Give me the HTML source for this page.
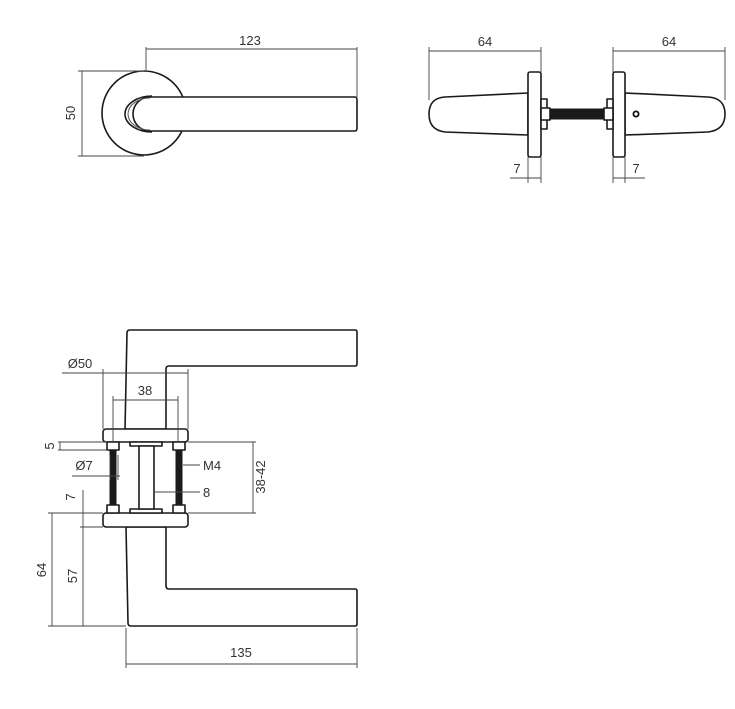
<!DOCTYPE html>
<html><head><meta charset="utf-8"><style>
html,body{margin:0;padding:0;background:#fff;}
svg{display:block}
text{font-family:"Liberation Sans",sans-serif;font-size:13px;fill:#333}
.s{fill:#fff;stroke:#1a1a1a;stroke-width:1.6;stroke-linejoin:round}
.d{fill:none;stroke:#444;stroke-width:0.9}
.t{fill:#1a1a1a;stroke:#1a1a1a}
</style></head><body>
<svg width="735" height="709" viewBox="0 0 735 709" xmlns="http://www.w3.org/2000/svg">
<!-- TOP LEFT -->
<circle class="s" cx="144" cy="113" r="42"/>
<path class="s" d="M150,97 L355,97 Q357,97 357,100 L357,128 Q357,131 355,131 L150,131 A17,17 0 0 1 150,97 Z"/>
<path fill="none" stroke="#1a1a1a" stroke-width="1.6" d="M152,96 A27,18 0 0 0 152,132"/>
<path fill="none" stroke="#555" stroke-width="1" d="M150,98 A22,16 0 0 0 150,130"/>
<path class="d" d="M146,49 L357,49 M146,47 L146,70 M357,47 L357,97"/>
<text x="250" y="45" text-anchor="middle">123</text>
<path class="d" d="M82,71 L82,156 M78,71 L144,71 M78,156 L144,156"/>
<text transform="translate(75,113) rotate(-90)" text-anchor="middle">50</text>

<!-- TOP RIGHT -->
<path class="s" d="M528,93 L445,97 Q429,98 429,114 Q429,130 445,132 L528,135 Z"/>
<rect class="s" x="528" y="72" width="13" height="85" rx="2"/>
<path class="s" d="M625,93 L708,97 Q725,98 725,114 Q725,130 708,132 L625,135 Z"/>
<rect class="s" x="613" y="72" width="12" height="85" rx="2"/>
<circle cx="636" cy="114" r="2.6" fill="none" stroke="#111" stroke-width="1.8"/>
<rect class="s" x="541" y="99" width="6" height="30" stroke-width="1"/>
<rect class="s" x="541" y="108" width="9" height="12" stroke-width="1"/>
<rect class="s" x="607" y="99" width="6" height="30" stroke-width="1"/>
<rect class="s" x="604" y="108" width="9" height="12" stroke-width="1"/>
<rect class="t" x="550" y="109" width="54" height="10"/>
<path class="d" d="M429,51 L541,51 M429,47 L429,100 M541,47 L541,72"/>
<text x="485" y="46" text-anchor="middle">64</text>
<path class="d" d="M613,51 L725,51 M725,47 L725,100 M613,47 L613,72"/>
<text x="669" y="46" text-anchor="middle">64</text>
<path class="d" d="M528,157 L528,183 M541,157 L541,183 M510,178 L541,178"/>
<text x="517" y="173" text-anchor="middle">7</text>
<path class="d" d="M613,157 L613,183 M625,157 L625,183 M613,178 L645,178"/>
<text x="636" y="173" text-anchor="middle">7</text>

<!-- BOTTOM -->
<path class="s" d="M125,429 L127,333 Q127,330 130,330 L355,330 Q357,330 357,332 L357,364 Q357,366 355,366 L169,366 Q166,366 166,369 L166,429 Z"/>
<path class="s" d="M126,527 L128,623 Q128,626 131,626 L355,626 Q357,626 357,624 L357,591 Q357,589 355,589 L169,589 Q166,589 166,586 L166,527 Z"/>
<rect class="s" x="103" y="429" width="85" height="13" rx="3"/>
<rect class="s" x="103" y="513" width="85" height="14" rx="3"/>
<rect class="s" x="107" y="442" width="12" height="8" stroke-width="1.2"/>
<rect class="s" x="173" y="442" width="12" height="8" stroke-width="1.2"/>
<rect class="s" x="107" y="505" width="12" height="8" stroke-width="1.2"/>
<rect class="s" x="173" y="505" width="12" height="8" stroke-width="1.2"/>
<rect class="s" x="130" y="442" width="32" height="4" stroke-width="1.2"/>
<rect class="s" x="130" y="509" width="32" height="4" stroke-width="1.2"/>
<rect class="s" x="139" y="446" width="15" height="63" stroke-width="1.2"/>
<rect class="t" x="110" y="450" width="6" height="55"/>
<rect class="t" x="176" y="450" width="6" height="55"/>
<!-- dims -->
<path class="d" d="M62,373 L188,373 M103,369 L103,429 M188,369 L188,429"/>
<text x="80" y="368" text-anchor="middle">Ø50</text>
<path class="d" d="M113,400 L178,400 M113,396 L113,442 M178,396 L178,442"/>
<text x="145" y="395" text-anchor="middle">38</text>
<path class="d" d="M58,442 L107,442 M58,450 L107,450 M60,442 L60,450"/>
<text transform="translate(54,446) rotate(-90)" text-anchor="middle">5</text>
<path class="d" d="M72,476 L120,476 M110,455 L110,480 M118,455 L118,480"/>
<text x="84" y="470" text-anchor="middle">Ø7</text>
<path class="d" d="M183,465 L200,465 M154,492 L200,492"/>
<text x="203" y="470">M4</text>
<text x="203" y="497">8</text>
<path class="d" d="M188,442 L256,442 M188,513 L256,513 M253,442 L253,513"/>
<text transform="translate(265,477) rotate(-90)" text-anchor="middle">38-42</text>
<path class="d" d="M83,490 L83,626 M80,527 L103,527 M48,513 L103,513 M48,626 L126,626 M52,513 L52,626"/>
<text transform="translate(75,497) rotate(-90)" text-anchor="middle">7</text>
<text transform="translate(77,576) rotate(-90)" text-anchor="middle">57</text>
<text transform="translate(46,570) rotate(-90)" text-anchor="middle">64</text>
<path class="d" d="M126,664 L357,664 M126,628 L126,668 M357,628 L357,668"/>
<text x="241" y="657" text-anchor="middle">135</text>
</svg>
</body></html>
